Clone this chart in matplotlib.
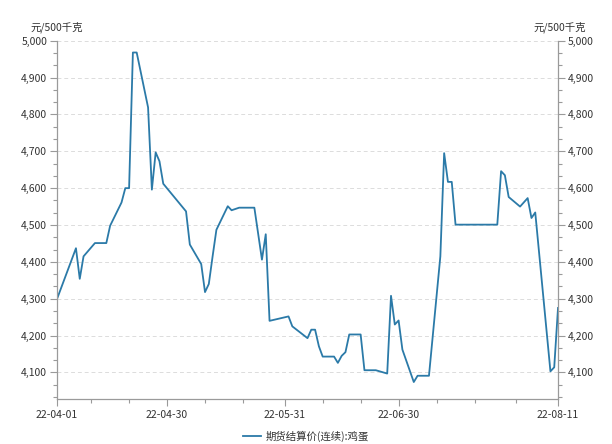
# Egg futures settlement price (continuous), 2022-04-01 .. 2022-08-11

import datetime as dt
from matplotlib import pyplot as plt
import matplotlib.dates as mdates
from matplotlib.ticker import MultipleLocator, StrMethodFormatter
import numpy as np

plt.rcParams['font.family'] = ['Noto Sans CJK SC', 'DejaVu Sans']
plt.rcParams['font.size'] = 7.5

dates = ['2022-04-01', '2022-04-06', '2022-04-07', '2022-04-08', '2022-04-11',
         '2022-04-14', '2022-04-15', '2022-04-18', '2022-04-19', '2022-04-20',
         '2022-04-21', '2022-04-22', '2022-04-25', '2022-04-26', '2022-04-27',
         '2022-04-28', '2022-04-29', '2022-05-05', '2022-05-06', '2022-05-09',
         '2022-05-10', '2022-05-11', '2022-05-12', '2022-05-13', '2022-05-16',
         '2022-05-17', '2022-05-19', '2022-05-23', '2022-05-25', '2022-05-26',
         '2022-05-27', '2022-06-01', '2022-06-02', '2022-06-06', '2022-06-07',
         '2022-06-08', '2022-06-09', '2022-06-10', '2022-06-13', '2022-06-14',
         '2022-06-15', '2022-06-16', '2022-06-17', '2022-06-20', '2022-06-21',
         '2022-06-24', '2022-06-27', '2022-06-28', '2022-06-29', '2022-06-30',
         '2022-07-01', '2022-07-04', '2022-07-05', '2022-07-08', '2022-07-11',
         '2022-07-12', '2022-07-13', '2022-07-14', '2022-07-15', '2022-07-26',
         '2022-07-27', '2022-07-28', '2022-07-29', '2022-08-01', '2022-08-03',
         '2022-08-04', '2022-08-05', '2022-08-09', '2022-08-10', '2022-08-11']
prices = [4299, 4437, 4354, 4415, 4451,
          4451, 4498, 4561, 4600, 4600,
          4968, 4968, 4819, 4596, 4697,
          4673, 4612, 4537, 4447, 4394,
          4318, 4340, 4415, 4487, 4551,
          4540, 4547, 4547, 4406, 4475,
          4240, 4252, 4225, 4193, 4216,
          4216, 4171, 4143, 4143, 4126,
          4145, 4155, 4203, 4203, 4106,
          4106, 4097, 4308, 4230, 4241,
          4162, 4074, 4091, 4091, 4415,
          4695, 4617, 4617, 4501, 4501,
          4646, 4635, 4576, 4550, 4573,
          4519, 4534, 4103, 4114, 4275]

major_dates = ['2022-04-01', '2022-04-30', '2022-05-31', '2022-06-30', '2022-08-11']
minor_dates = ['2022-04-10', '2022-04-20', '2022-05-10', '2022-05-20', '2022-06-10',
               '2022-06-20', '2022-07-10', '2022-07-20', '2022-07-31']
unit = '元/500千克'
series_name = '期货结算价(连续):鸡蛋'

x = [dt.datetime.strptime(d, '%Y-%m-%d') for d in dates]
xmaj = [dt.datetime.strptime(d, '%Y-%m-%d') for d in major_dates]
xmin = [dt.datetime.strptime(d, '%Y-%m-%d') for d in minor_dates]

fig = plt.figure(figsize=(6.12, 4.44), dpi=100)
ax = fig.add_axes([0.0931, 0.1014, 0.8187, 0.8069])

line, = ax.plot(x, prices, color='#2b7aa8', lw=1.3)

ax.set_xlim(xmaj[0], xmaj[-1])
ax.set_ylim(4028, 5000)

ax.set_xticks(xmaj)
ax.set_xticks(xmin, minor=True)
ax.xaxis.set_major_formatter(mdates.DateFormatter('%y-%m-%d'))
ax.yaxis.set_major_locator(MultipleLocator(100))
ax.yaxis.set_minor_locator(MultipleLocator(100 / 3))
ax.yaxis.set_major_formatter(StrMethodFormatter('{x:,.0f}'))

ax.tick_params(axis='y', which='both', left=True, right=True,
               labelleft=True, labelright=True)
ax.tick_params(which='major', length=5, width=0.8, color='#9a9a9a',
               labelcolor='#333333', pad=2)
ax.tick_params(which='minor', length=3, width=0.8, color='#9a9a9a')
ax.tick_params(axis='x', which='major', pad=3)

for s in ['left', 'right', 'bottom']:
    ax.spines[s].set_color('#9a9a9a')
    ax.spines[s].set_linewidth(0.9)
ax.spines['top'].set_visible(False)

ax.set_axisbelow(True)
ax.yaxis.grid(True, which='major', ls=(0, (4, 3)), color='#dcdcdc', lw=0.7)

fig.text(57 / 612, 1 - 27 / 444, unit, ha='center', va='center', color='#333333')
fig.text(560 / 612, 1 - 27 / 444, unit, ha='center', va='center', color='#333333')

fig.legend([line], [series_name], loc='center', bbox_to_anchor=(0.5, 1 - 436 / 444),
           frameon=False, handlelength=1.7, handletextpad=0.5, labelcolor='#333333')

fig.savefig('out.png', dpi=100)
